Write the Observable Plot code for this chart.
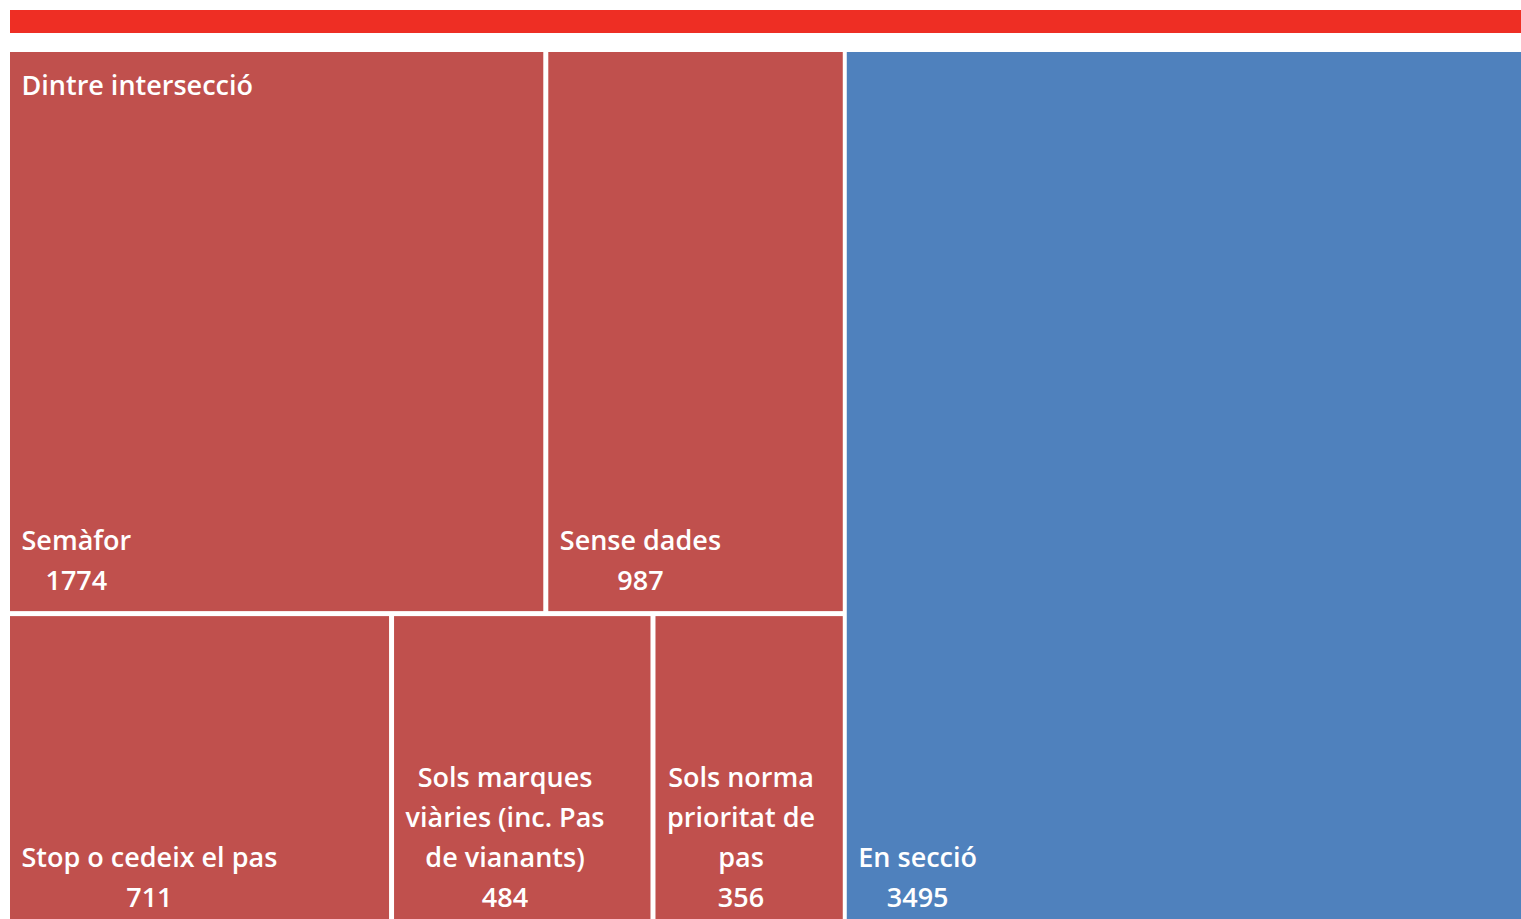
<!DOCTYPE html>
<html><head><meta charset="utf-8">
<script src="https://cdn.jsdelivr.net/npm/d3@7"></script>
<script src="https://cdn.jsdelivr.net/npm/@observablehq/plot@0.6"></script>
<style>
html,body{margin:0;padding:0;background:#fff;overflow:hidden;}
#wrap{position:relative;width:1521px;height:919px;overflow:hidden;}
#bar{position:absolute;left:10px;top:10px;width:1511px;height:23px;background:#EE2E24;}
#chart{position:absolute;left:0;top:0;}
</style></head><body>
<div id="wrap"><div id="chart"></div><div id="bar"></div></div>
<script>
// Data
const groupNames = ["Dintre intersecció","Dintre intersecció","Dintre intersecció","Dintre intersecció","Dintre intersecció","En secció"];
const categories = ["Semàfor","Sense dades","Stop o cedeix el pas","Sols marques\nviàries (inc. Pas\nde vianants)","Sols norma\nprioritat de\npas","En secció"];
const counts = [1774, 987, 711, 484, 356, 3495];
const groupOrder = ["Dintre intersecció","En secció"];
const groupColors = ["#C0504D","#4F81BD"];

const FONT_SIZE = 27;
const FONT_WEIGHT = 600;
const FONT_FAMILY = "Open Sans";
const W = 1511, H = 876;

const rows = categories.map((c, i) => ({group: groupNames[i], name: c, value: counts[i]}));
const tree = {children: groupOrder.map(g => ({name: g, children: rows.filter(r => r.group === g)}))};
const root = d3.hierarchy(tree).sum(d => d.value || 0).sort((a, b) => b.value - a.value);
d3.treemap().size([W, H]).paddingInner(n => n.depth === 0 ? 4 : 5)(root);
const leaves = root.leaves();
const groupLabels = root.children.filter(g => g.children.length > 1);

const ctx = document.createElement("canvas").getContext("2d");
ctx.font = `${FONT_WEIGHT} ${FONT_SIZE}px "${FONT_FAMILY}"`;
const labelText = d => d.data.name + "\n" + d.data.value;
const blockWidth = d => d3.max(labelText(d).split("\n"), s => ctx.measureText(s).width);

const chart = Plot.plot({
  width: 1521,
  height: 928,
  marginTop: 52, marginLeft: 10, marginRight: 0, marginBottom: 0,
  x: {domain: [0, W], range: [10, 1521], axis: null},
  y: {domain: [0, H], range: [52, 928], axis: null},
  color: {domain: groupOrder, range: groupColors},
  style: {fontFamily: `"${FONT_FAMILY}"`, background: "white"},
  marks: [
    Plot.rect(leaves, {x1: d => d.x0, x2: d => d.x1, y1: d => d.y0, y2: d => d.y1, fill: d => d.data.group}),
    Plot.text(groupLabels, {x: d => d.x0 + 11, y: d => d.y0 + 23, text: d => d.data.name,
      textAnchor: "start", lineAnchor: "top", fill: "white", fontSize: FONT_SIZE, fontWeight: FONT_WEIGHT}),
    Plot.text(leaves, {x: d => d.x0 + 11 + blockWidth(d) / 2, y: d => d.y1 - 22, text: labelText,
      textAnchor: "middle", lineAnchor: "bottom", lineHeight: 40 / FONT_SIZE, fill: "white",
      fontSize: FONT_SIZE, fontWeight: FONT_WEIGHT})
  ]
});
document.getElementById("chart").appendChild(chart);
</script>
</body></html>
